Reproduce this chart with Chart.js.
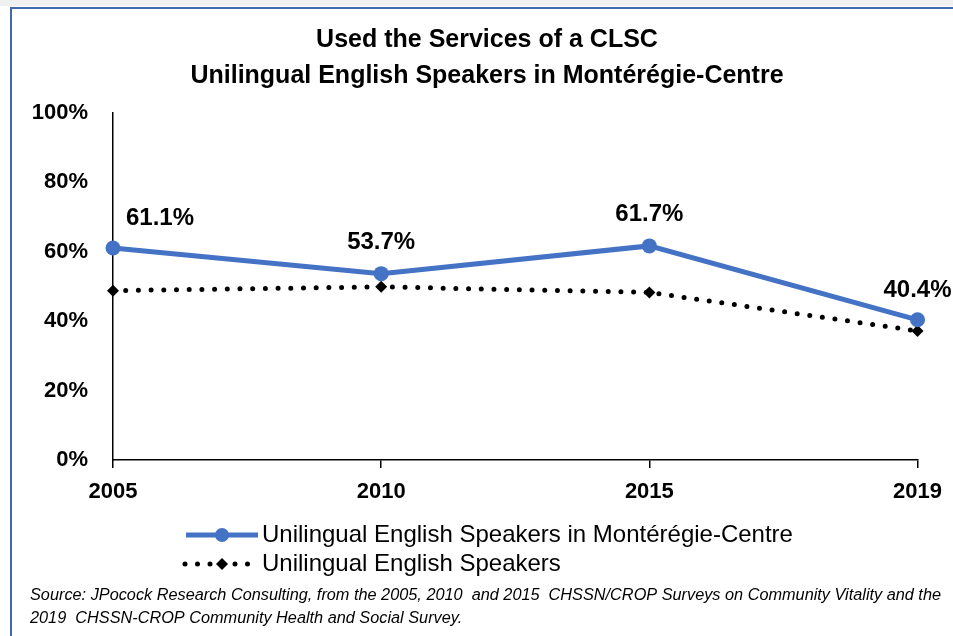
<!DOCTYPE html>
<html><head><meta charset="utf-8">
<script src="https://cdn.jsdelivr.net/npm/chart.js@4"></script>
<style>html,body{margin:0;padding:0;background:#fff}#wrap{width:953px;height:636px;position:relative}</style>
</head><body><div id="wrap"><canvas id="c" width="953" height="636"></canvas></div>
<script>
const years = ['2005', '2010', '2015', '2019'];
const monteregieValues = [61.1, 53.7, 61.7, 40.4];
const englishValues = [48.8, 49.9, 48.3, 37.2];
const yTickValues = [0, 20, 40, 60, 80, 100];
const titleLines = ['Used the Services of a CLSC', 'Unilingual English Speakers in Montérégie-Centre'];
const seriesNames = ['Unilingual English Speakers in Montérégie-Centre', 'Unilingual English Speakers'];
const sourceLines = [
  'Source: JPocock Research Consulting, from the 2005, 2010  and 2015  CHSSN/CROP Surveys on Community Vitality and the',
  '2019  CHSSN-CROP Community Health and Social Survey.'
];

const FONT = '"Liberation Sans", Arial, sans-serif';
const BLUE = '#4472C4';

const decor = {
  id: 'decor',
  beforeDraw(chart) {
    const ctx = chart.ctx;
    ctx.save();
    ctx.fillStyle = '#fff';
    ctx.fillRect(0, 0, 953, 636);
    ctx.fillStyle = '#f0f0f0';
    ctx.fillRect(0, 0, 953, 6);
    ctx.fillStyle = '#4169B0';
    ctx.fillRect(10, 7, 943, 2);
    ctx.fillRect(10, 7, 2, 629);
    ctx.fillStyle = '#000';
    ctx.textAlign = 'center';
    ctx.textBaseline = 'middle';
    ctx.font = 'bold 25px ' + FONT;
    ctx.fillText(titleLines[0], 487, 40);
    ctx.fillText(titleLines[1], 487, 76);
    ctx.restore();
  },
  afterDatasetsDraw(chart) {
    const ctx = chart.ctx;
    ctx.save();
    const meta = chart.getDatasetMeta(0);
    const offs = [[47, -30], [0, -31], [0, -32], [0, -29]];
    ctx.font = 'bold 24px ' + FONT;
    ctx.fillStyle = '#000';
    ctx.textAlign = 'center';
    ctx.textBaseline = 'middle';
    meta.data.forEach((p, i) => {
      ctx.fillText(monteregieValues[i].toFixed(1) + '%', p.x + offs[i][0], p.y + offs[i][1]);
    });
    const ds = chart.data.datasets;
    const rows = [535, 564];
    ctx.strokeStyle = BLUE; ctx.lineWidth = 5; ctx.lineCap = 'butt';
    ctx.beginPath(); ctx.moveTo(186, rows[0]); ctx.lineTo(258, rows[0]); ctx.stroke();
    ctx.fillStyle = BLUE;
    ctx.beginPath(); ctx.arc(222, rows[0], 7, 0, Math.PI * 2); ctx.fill();
    ctx.strokeStyle = '#000'; ctx.lineWidth = 5; ctx.lineCap = 'round';
    ctx.setLineDash([0, 12.5]);
    ctx.beginPath(); ctx.moveTo(185, rows[1]); ctx.lineTo(260, rows[1]); ctx.stroke();
    ctx.setLineDash([]);
    ctx.fillStyle = '#000';
    ctx.beginPath();
    ctx.moveTo(222, rows[1] - 6); ctx.lineTo(228, rows[1]); ctx.lineTo(222, rows[1] + 6); ctx.lineTo(216, rows[1]);
    ctx.closePath(); ctx.fill();
    ctx.font = '24px ' + FONT;
    ctx.textAlign = 'left';
    ctx.fillText(ds[0].label, 262, rows[0]);
    ctx.fillText(ds[1].label, 262, rows[1]);
    ctx.font = 'italic 16.3px ' + FONT;
    ctx.fillText(sourceLines[0], 30, 595);
    ctx.fillText(sourceLines[1], 30, 618);
    ctx.restore();
  }
};

new Chart(document.getElementById('c'), {
  type: 'line',
  data: {
    labels: years,
    datasets: [
      {
        label: seriesNames[0],
        data: monteregieValues,
        borderColor: BLUE,
        backgroundColor: BLUE,
        borderWidth: 5,
        pointRadius: 7.5,
        pointBackgroundColor: BLUE,
        pointBorderColor: BLUE,
        pointBorderWidth: 0,
        tension: 0,
        clip: false
      },
      {
        label: seriesNames[1],
        data: englishValues,
        borderColor: '#000',
        backgroundColor: '#000',
        borderWidth: 5,
        borderDash: [0, 12.7],
        borderCapStyle: 'round',
        pointStyle: 'rectRot',
        pointRadius: 6,
        pointBackgroundColor: '#000',
        pointBorderColor: '#000',
        pointBorderWidth: 0,
        tension: 0,
        clip: false
      }
    ]
  },
  options: {
    responsive: false,
    animation: false,
    devicePixelRatio: 1,
    layout: { padding: { left: 0, top: 113, right: 34, bottom: 0 } },
    plugins: { legend: { display: false }, title: { display: false }, tooltip: { enabled: false } },
    scales: {
      x: {
        type: 'category',
        offset: false,
        grid: { display: true, drawOnChartArea: false, drawTicks: true, tickLength: 8, color: '#000', lineWidth: 1.5 },
        border: { display: true, color: '#000', width: 1.5 },
        ticks: { color: '#000', font: { family: FONT, size: 22, weight: 'bold' }, padding: 11, maxRotation: 0 },
        afterFit: s => { s.height = 176; }
      },
      y: {
        min: 0, max: 100,
        afterBuildTicks: s => { s.ticks = yTickValues.map(v => ({ value: v })); },
        grid: { display: true, drawOnChartArea: false, drawTicks: false },
        border: { display: true, color: '#000', width: 1.5 },
        ticks: { color: '#000', font: { family: FONT, size: 22, weight: 'bold' }, padding: 25, callback: v => v + '%' },
        afterFit: s => { s.width = 113; }
      }
    }
  },
  plugins: [decor]
});
</script>
</body></html>
